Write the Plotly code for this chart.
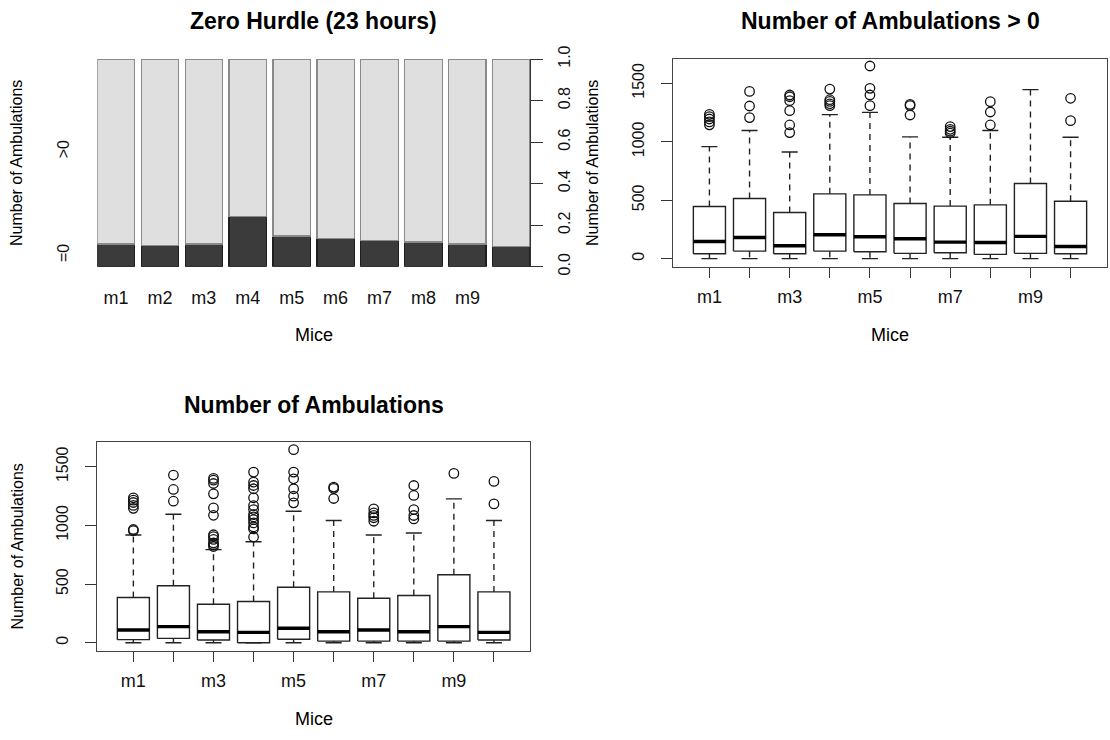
import plotly.graph_objects as go

# ---------------- data ----------------
mice = ['m1', 'm2', 'm3', 'm4', 'm5', 'm6', 'm7', 'm8', 'm9', 'm10']
bar_tick_labels = ['m1', 'm2', 'm3', 'm4', 'm5', 'm6', 'm7', 'm8', 'm9', '']
box_tick_labels = ['m1', '', 'm3', '', 'm5', '', 'm7', '', 'm9', '']

# Zero hurdle: proportion of hours with zero ambulations
zero_frac = [0.109, 0.104, 0.109, 0.241, 0.148, 0.137, 0.127, 0.119, 0.109, 0.096]
spine_ticks = [0.0, 0.2, 0.4, 0.6, 0.8, 1.0]
spine_tick_labels = ['0.0', '0.2', '0.4', '0.6', '0.8', '1.0']

# Number of ambulations > 0 (box statistics)
pos_lo = [1, 1, 1, 1, 1, 1, 1, 1, 1, 1]
pos_q1 = [43, 65, 43, 65, 60, 46, 51, 37, 46, 43]
pos_med = [148, 182, 111, 205, 188, 171, 142, 139, 191, 105]
pos_q3 = [447, 515, 396, 555, 546, 472, 450, 461, 643, 492]
pos_hi = [959, 1096, 913, 1232, 1252, 1042, 1039, 1096, 1446, 1039]
pos_out = [
    [1145, 1170, 1195, 1215, 1235],
    [1207, 1306, 1431],
    [1079, 1144, 1266, 1352, 1385, 1400],
    [1309, 1325, 1345, 1360, 1451],
    [1309, 1400, 1457, 1648],
    [1229, 1309, 1320],
    [1075, 1090, 1107, 1130],
    [1144, 1255, 1343],
    [],
    [1181, 1372],
]

# Number of ambulations (all hours)
all_lo = [0, 0, 0, 0, 0, 0, 0, 0, 0, 0]
all_q1 = [26, 37, 23, 0, 29, 14, 14, 14, 14, 23]
all_med = [108, 137, 94, 88, 123, 94, 108, 94, 137, 88]
all_q3 = [385, 485, 328, 351, 473, 433, 379, 402, 579, 433]
all_hi = [918, 1095, 793, 861, 1121, 1041, 918, 935, 1226, 1041]
all_out = [
    [955, 965, 1145, 1170, 1195, 1215, 1235],
    [1206, 1306, 1429],
    [820, 835, 850, 880, 905, 920, 1086, 1149, 1269, 1357, 1385, 1400],
    [901, 970, 987, 1021, 1049, 1072, 1092, 1135, 1169, 1235, 1312, 1340, 1369, 1454],
    [1192, 1249, 1312, 1397, 1454, 1645],
    [1229, 1315, 1326],
    [1035, 1065, 1085, 1106, 1141],
    [1055, 1084, 1135, 1255, 1340],
    [1443],
    [1183, 1375],
]
box_yticks = [0, 500, 1000, 1500]

# ---------------- layout constants ----------------
W, H = 1110, 740
FONT = 'Liberation Sans, Arial, Helvetica, sans-serif'


def px_x(p):
    return p / W


def px_y(p):
    return 1 - p / H


dom_x_left = [px_x(97.3), px_x(530)]
dom_x_right = [px_x(673.3), px_x(1106.7)]
dom_y_top = [px_y(266.7), px_y(59)]
dom_y_bot = [px_y(650.7), px_y(442.3)]

fig = go.Figure()

# ---------------- spineplot (stacked bars) ----------------
xpos = list(range(len(mice)))
fig.add_trace(go.Bar(
    x=xpos, y=zero_frac, name='=0',
    marker=dict(color='#3b3b3b', line=dict(color='#1e1e1e', width=1.2)),
    xaxis='x', yaxis='y', showlegend=False, hoverinfo='skip'))
fig.add_trace(go.Bar(
    x=xpos, y=[1 - z for z in zero_frac], name='>0',
    marker=dict(color='#dfdfdf', line=dict(color='#8a8a8a', width=1.2)),
    xaxis='x', yaxis='y', showlegend=False, hoverinfo='skip'))
# invisible trace so that the right-hand proportion axis is drawn
fig.add_trace(go.Scatter(x=[xpos[0]], y=[spine_ticks[0]], xaxis='x', yaxis='y2',
                         mode='markers', marker=dict(opacity=0), showlegend=False,
                         hoverinfo='skip'))


# ---------------- box plots drawn from statistics ----------------
def add_box_traces(xa, ya, lo, q1, med, q3, hi, outs):
    hw, cw = 0.4, 0.2
    rx, ry, mx, my, wx, wy, cx, cy, ox, oy = ([] for _ in range(10))
    for i in range(len(q1)):
        c = i + 1
        rx += [c - hw, c + hw, c + hw, c - hw, c - hw, None]
        ry += [q1[i], q1[i], q3[i], q3[i], q1[i], None]
        mx += [c - hw, c + hw, None]
        my += [med[i], med[i], None]
        wx += [c, c, None, c, c, None]
        wy += [q3[i], hi[i], None, q1[i], lo[i], None]
        cx += [c - cw, c + cw, None, c - cw, c + cw, None]
        cy += [hi[i], hi[i], None, lo[i], lo[i], None]
        ox += [c] * len(outs[i])
        oy += outs[i]
    common = dict(xaxis=xa, yaxis=ya, showlegend=False, hoverinfo='skip', mode='lines')
    fig.add_trace(go.Scatter(x=wx, y=wy, line=dict(color='#222', width=1.4, dash='6px,5px'), **common))
    fig.add_trace(go.Scatter(x=cx, y=cy, line=dict(color='#222', width=1.4), **common))
    fig.add_trace(go.Scatter(x=rx, y=ry, line=dict(color='#222', width=1.4), **common))
    fig.add_trace(go.Scatter(x=mx, y=my, line=dict(color='#000', width=3.4), **common))
    fig.add_trace(go.Scatter(x=ox, y=oy, xaxis=xa, yaxis=ya, mode='markers', showlegend=False,
                             hoverinfo='skip',
                             marker=dict(symbol='circle-open', size=9.5, color='#111',
                                         line=dict(width=1.3, color='#111'))))


add_box_traces('x2', 'y3', pos_lo, pos_q1, pos_med, pos_q3, pos_hi, pos_out)
add_box_traces('x3', 'y4', all_lo, all_q1, all_med, all_q3, all_hi, all_out)

# ---------------- axes ----------------
tickfont_h = dict(family=FONT, size=18, color='#111')
tickfont_v = dict(family=FONT, size=16, color='#111')

box_x_common = dict(range=[0.1, 10.9], tickmode='array', tickvals=list(range(1, 11)),
                    ticktext=box_tick_labels, ticks='outside', ticklen=10, tickwidth=1.4,
                    tickcolor='#333', showline=True, linecolor='#444', linewidth=1.4, mirror=True,
                    showgrid=False, zeroline=False, tickfont=tickfont_h, ticklabelstandoff=3,
                    automargin=False)
box_y_common = dict(range=[-68, 1708], tickmode='array', tickvals=box_yticks,
                    ticks='outside', ticklen=11, tickwidth=1.4, tickcolor='#333',
                    showline=True, linecolor='#444', linewidth=1.4, mirror=True,
                    showgrid=False, zeroline=False, tickfont=tickfont_v, tickangle=-90,
                    ticklabelstandoff=11, automargin=False)

fig.update_layout(
    width=W, height=H, autosize=False,
    margin=dict(l=0, r=0, t=0, b=0, pad=0, autoexpand=False),
    paper_bgcolor='white', plot_bgcolor='white',
    barmode='stack', bargap=0.15,
    font=dict(family=FONT, color='#111'),
    xaxis=dict(domain=dom_x_left, anchor='y', range=[-0.425, len(mice) - 0.575],
               tickmode='array', tickvals=xpos, ticktext=bar_tick_labels,
               showline=False, ticks='', showgrid=False, zeroline=False,
               tickfont=tickfont_h, ticklabelstandoff=18, automargin=False),
    yaxis=dict(domain=dom_y_top, anchor='x', range=[0, 1], tickmode='array',
               tickvals=[zero_frac[0] / 2, (1 + zero_frac[0]) / 2], ticktext=['=0', '>0'],
               ticks='', showline=False, showgrid=False, zeroline=False,
               tickfont=tickfont_v, tickangle=-90, ticklabelstandoff=24, automargin=False),
    yaxis2=dict(domain=dom_y_top, anchor='x', overlaying='y', side='right', range=[0, 1],
                tickmode='array', tickvals=spine_ticks, ticktext=spine_tick_labels,
                ticks='outside', ticklen=12, tickwidth=1.4, tickcolor='#333',
                showline=True, linecolor='#333', linewidth=1.4, showgrid=False, zeroline=False,
                tickfont=tickfont_v, tickangle=-90, ticklabelstandoff=8, automargin=False),
    xaxis2=dict(domain=dom_x_right, anchor='y3', **box_x_common),
    yaxis3=dict(domain=dom_y_top, anchor='x2', **box_y_common),
    xaxis3=dict(domain=dom_x_left, anchor='y4', **box_x_common),
    yaxis4=dict(domain=dom_y_bot, anchor='x3', **box_y_common),
)

# ---------------- titles and axis labels ----------------
def text(s, x, y, size, bold=False, angle=0):
    fig.add_annotation(text=f'<b>{s}</b>' if bold else s, x=px_x(x), y=px_y(y),
                       xref='paper', yref='paper', xanchor='center', yanchor='middle',
                       showarrow=False, textangle=angle,
                       font=dict(family=FONT, size=size, color='#000'))


cx_left = (97.3 + 530) / 2
cx_right = (673.3 + 1106.7) / 2
text('Zero Hurdle (23 hours)', cx_left, 21, 23, bold=True)
text('Number of Ambulations &gt; 0', cx_right, 21, 23, bold=True)
text('Number of Ambulations', cx_left, 405, 23, bold=True)
text('Mice', cx_left, 335, 18)
text('Mice', cx_right, 335, 18)
text('Mice', cx_left, 719, 18)
text('Number of Ambulations', 17, 163, 16, angle=-90)
text('Number of Ambulations', 593, 163, 16, angle=-90)
text('Number of Ambulations', 17, 546.5, 16, angle=-90)

fig.write_html('out.html')
